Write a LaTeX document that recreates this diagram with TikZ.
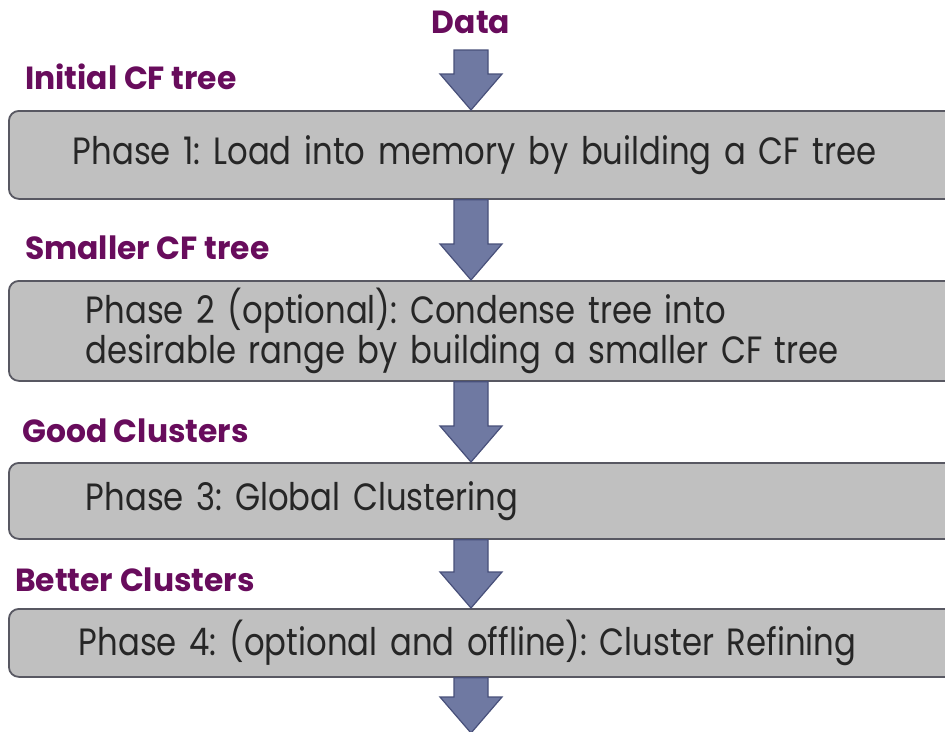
\documentclass[tikz,border=0pt]{standalone}
\usepackage{fontspec}
\setmainfont{Poppins}[FakeStretch=0.85]
\newfontfamily\stagefont{Poppins}[FakeStretch=0.98]
\usetikzlibrary{calc}
\definecolor{boxfill}{RGB}{192,192,192}
\definecolor{boxline}{RGB}{88,88,98}
\definecolor{arrfill}{RGB}{111,121,162}
\definecolor{arrline}{RGB}{72,80,122}
\definecolor{stagecol}{RGB}{104,12,92}
\tikzset{
  phasebox/.style={draw=boxline, line width=1.8pt, fill=boxfill, rounded corners=10pt,
    anchor=north west, minimum width=960pt, text width=860pt, align=left,
    font=\fontsize{38}{40}\selectfont\frenchspacing, text=black!85, inner ysep=0pt},
  stage/.style={anchor=west, inner sep=0pt, text=stagecol,
    font=\stagefont\fontsize{32}{34}\selectfont\bfseries},
  blockarr/.style={fill=arrfill, draw=arrline, line width=1.2pt, line join=miter}
}
% block arrow from #1 (tail centre) to #2 (tip)
\newcommand{\blockarrow}[2]{%
  \draw[blockarr] ($(#1)+(-17,0)$) -- ($(#2)+(-17,-36)$) -- ($(#2)+(-31,-36)$) --
    (#2) -- ($(#2)+(31,-36)$) -- ($(#2)+(17,-36)$) -- ($(#1)+(17,0)$) -- cycle;}
\begin{document}
\begin{tikzpicture}[x=1pt, y=-1pt]
  \useasboundingbox (0,0) rectangle (945,731);
  \clip (0,0) rectangle (945,731);

  \node[stage, anchor=center] (data) at (471,22) {Data};

  \node[stage] (s1) at (25,77) {Initial CF tree};
  \node[stage] (s2) at (25,248) {Smaller CF tree};
  \node[stage] (s3) at (22,431) {Good Clusters};
  \node[stage] (s4) at (15,580) {Better Clusters};

  \node[phasebox, minimum height=88pt, inner xsep=64pt] (b1) at (8,110)
    {Phase 1: Load into memory by building a CF tree};
  \node[phasebox, minimum height=100pt, inner xsep=77pt] (b2) at (8,280)
    {Phase 2 (optional): Condense tree into\\desirable range by building a smaller CF tree};
  \node[phasebox, minimum height=76pt, inner xsep=77pt] (b3) at (8,462)
    {Phase 3: Global Clustering};
  \node[phasebox, minimum height=68pt, inner xsep=70pt] (b4) at (8,608)
    {Phase 4: (optional and offline): Cluster Refining};

  \coordinate (a0) at (471,50);
  \coordinate (end) at (471,733);
  \blockarrow{a0}{b1.north -| a0}
  \blockarrow{b1.south -| a0}{b2.north -| a0}
  \blockarrow{b2.south -| a0}{b3.north -| a0}
  \blockarrow{b3.south -| a0}{b4.north -| a0}
  \blockarrow{b4.south -| a0}{end}
\end{tikzpicture}
\end{document}
